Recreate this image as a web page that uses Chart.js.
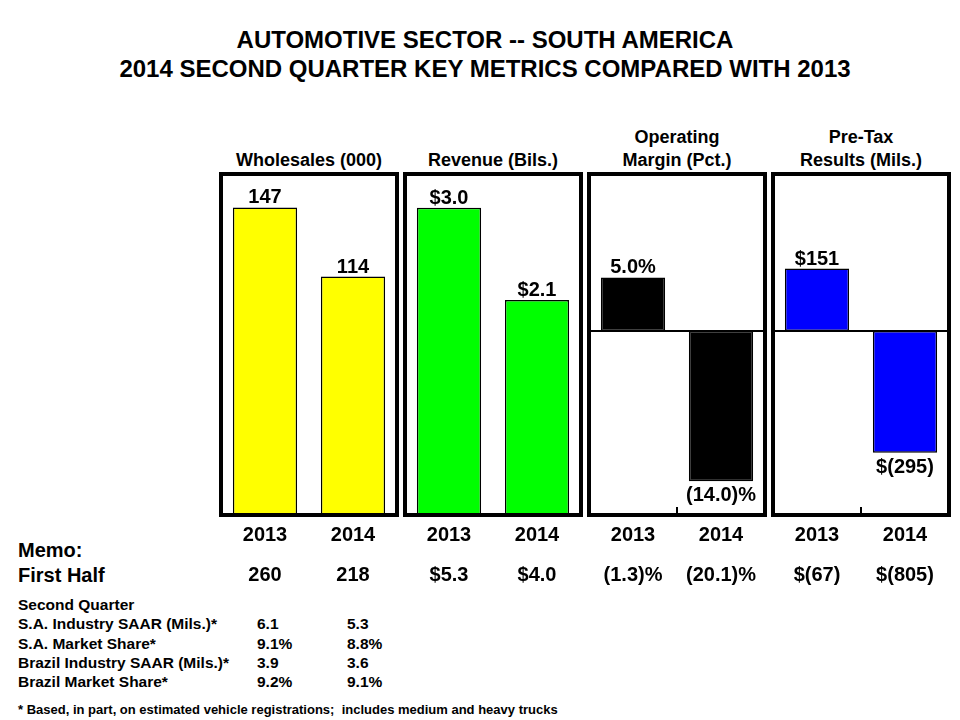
<!DOCTYPE html>
<html>
<head>
<meta charset="utf-8">
<script src="https://cdn.jsdelivr.net/npm/chart.js@4.4.1/dist/chart.umd.min.js"></script>
<style>
  body { margin: 0; background: #fff; }
  #page { position: relative; width: 960px; height: 720px; overflow: hidden;
          font-family: "Liberation Sans", Arial, sans-serif; font-weight: bold; color: #000; }
  .abs { position: absolute; white-space: nowrap; }
  .title { left: 0; width: 970px; top: 25px; font-size: 24px; line-height: 29px; text-align: center; }
  .head { width: 200px; font-size: 18px; line-height: 23px; text-align: center; }
  .memo { left: 18px; font-size: 20px; line-height: 24px; }
  .sq { font-size: 15.5px; line-height: 19.25px; }
  .foot { left: 18px; top: 702px; font-size: 13px; line-height: 15px; }
  canvas { position: absolute; }
</style>
</head>
<body>
<div id="page">
  <div class="abs title">AUTOMOTIVE SECTOR -- SOUTH AMERICA<br>2014 SECOND QUARTER KEY METRICS COMPARED WITH 2013</div>
  <div id="heads"></div>
  <div class="abs memo" style="top:538px">Memo:</div>
  <div class="abs memo" style="top:563px">First Half</div>
  <div id="sq"></div>
  <div class="abs foot">* Based, in part, on estimated vehicle registrations;&nbsp; includes medium and heavy trucks</div>
</div>
<script>
/* DATOS */
const years = ["2013", "2014"];

const wholesales = [147, 114];
const revenue = [3.0, 2.1];
const opMargin = [5.0, -14.0];
const preTax = [151, -295];

const wholesalesLabels = ["147", "114"];
const revenueLabels = ["$3.0", "$2.1"];
const opMarginLabels = ["5.0%", "(14.0)%"];
const preTaxLabels = ["$151", "$(295)"];

const firstHalfWholesales = ["260", "218"];
const firstHalfRevenue = ["$5.3", "$4.0"];
const firstHalfMargin = ["(1.3)%", "(20.1)%"];
const firstHalfPreTax = ["$(67)", "$(805)"];

const sqRows = ["S.A. Industry SAAR (Mils.)*", "S.A. Market Share*", "Brazil Industry SAAR (Mils.)*", "Brazil Market Share*"];
const sq2013 = ["6.1", "9.1%", "3.9", "9.2%"];
const sq2014 = ["5.3", "8.8%", "3.6", "9.1%"];

/* PANELES */
const panels = [
  { head: ["Wholesales (000)"], data: wholesales, labels: wholesalesLabels, memo: firstHalfWholesales,
    color: "#ffff00", min: 0, max: 163, left: 221, zero: false },
  { head: ["Revenue (Bils.)"], data: revenue, labels: revenueLabels, memo: firstHalfRevenue,
    color: "#00ff00", min: 0, max: 3.33, left: 405, zero: false },
  { head: ["Operating", "Margin (Pct.)"], data: opMargin, labels: opMarginLabels, memo: firstHalfMargin,
    color: "#000000", min: -17.16, max: 14.65, left: 589, zero: true },
  { head: ["Pre-Tax", "Results (Mils.)"], data: preTax, labels: preTaxLabels, memo: firstHalfPreTax,
    color: "#0000ff", min: -445.5, max: 380, left: 773, zero: true }
];

const AREA_W = 176;
const AREA_TOP = 174;
const PAD = 4;
const CANVAS_TOP = AREA_TOP - PAD;
const MEMO_Y = 575;

Chart.defaults.font.family = '"Liberation Sans", Arial, sans-serif';
Chart.defaults.color = "#000";

const page = document.getElementById("page");

/* TEXTOS */
const heads = document.getElementById("heads");
panels.forEach(p => {
  const d = document.createElement("div");
  d.className = "abs head";
  d.style.left = (p.left + AREA_W / 2 - 100) + "px";
  d.style.top = (160 - 11.5 - 23 * (p.head.length - 1)) + "px";
  d.innerHTML = p.head.join("<br>");
  heads.appendChild(d);
});

const sq = document.getElementById("sq");
const sqTop = 595;
function addText(txt, left, top) {
  const d = document.createElement("div");
  d.className = "abs sq";
  d.style.left = left + "px";
  d.style.top = top + "px";
  d.textContent = txt;
  sq.appendChild(d);
}
addText("Second Quarter", 18, sqTop);
sqRows.forEach((r, i) => {
  const top = sqTop + 19.25 * (i + 1);
  addText(r, 18, top);
  addText(sq2013[i], 257, top);
  addText(sq2014[i], 347, top);
});

/* PLUGIN: marco, linea cero, etiquetas */
const panelDeco = {
  id: "panelDeco",
  afterDatasetsDraw(chart) {
    const p = chart.options.plugins.panelDeco;
    const ctx = chart.ctx;
    const a = chart.chartArea;
    const x = chart.scales.x;
    const y = chart.scales.y;
    ctx.save();

    if (p.zero) {
      const y0 = y.getPixelForValue(0);
      ctx.strokeStyle = "#000";
      ctx.lineWidth = 2;
      ctx.beginPath();
      ctx.moveTo(a.left, y0);
      ctx.lineTo(a.right, y0);
      ctx.stroke();
      const xm = (x.getPixelForValue(0) + x.getPixelForValue(1)) / 2;
      ctx.beginPath();
      ctx.moveTo(xm, a.bottom);
      ctx.lineTo(xm, a.bottom - 8);
      ctx.stroke();
    }

    ctx.strokeStyle = "#000";
    ctx.lineWidth = 4;
    ctx.strokeRect(a.left, a.top, a.right - a.left, a.bottom - a.top);

    ctx.fillStyle = "#000";
    ctx.font = 'bold 20px "Liberation Sans", Arial, sans-serif';
    ctx.textAlign = "center";
    ctx.textBaseline = "alphabetic";
    chart.getDatasetMeta(0).data.forEach((bar, i) => {
      const v = p.values[i];
      if (v >= 0) ctx.fillText(p.labels[i], bar.x, bar.y - 4);
      else ctx.fillText(p.labels[i], bar.x, bar.y + 20);
    });

    ctx.textBaseline = "middle";
    p.memo.forEach((m, i) => {
      ctx.fillText(m, x.getPixelForValue(i), MEMO_Y - CANVAS_TOP);
    });
    ctx.restore();
  }
};

panels.forEach(p => {
  const c = document.createElement("canvas");
  c.width = AREA_W + 2 * PAD;
  c.height = 420;
  c.style.left = (p.left - PAD) + "px";
  c.style.top = CANVAS_TOP + "px";
  page.appendChild(c);

  new Chart(c, {
    type: "bar",
    data: {
      labels: years,
      datasets: [{
        data: p.data,
        backgroundColor: p.color,
        borderColor: "#000",
        borderWidth: 1.5,
        borderSkipped: false,
        barPercentage: 0.73,
        categoryPercentage: 1
      }]
    },
    options: {
      responsive: false,
      animation: false,
      layout: { padding: { left: PAD, right: PAD, top: PAD, bottom: 0 } },
      scales: {
        x: {
          grid: { display: false, drawTicks: false },
          border: { display: false },
          ticks: { padding: 8, color: "#000", font: { size: 20, weight: "bold" } },
          afterFit(scale) { scale.height = 420 - PAD - 341; }
        },
        y: { display: false, min: p.min, max: p.max }
      },
      plugins: {
        legend: { display: false },
        tooltip: { enabled: false },
        panelDeco: { zero: p.zero, labels: p.labels, values: p.data, memo: p.memo }
      }
    },
    plugins: [panelDeco]
  });
});
</script>
</body>
</html>
